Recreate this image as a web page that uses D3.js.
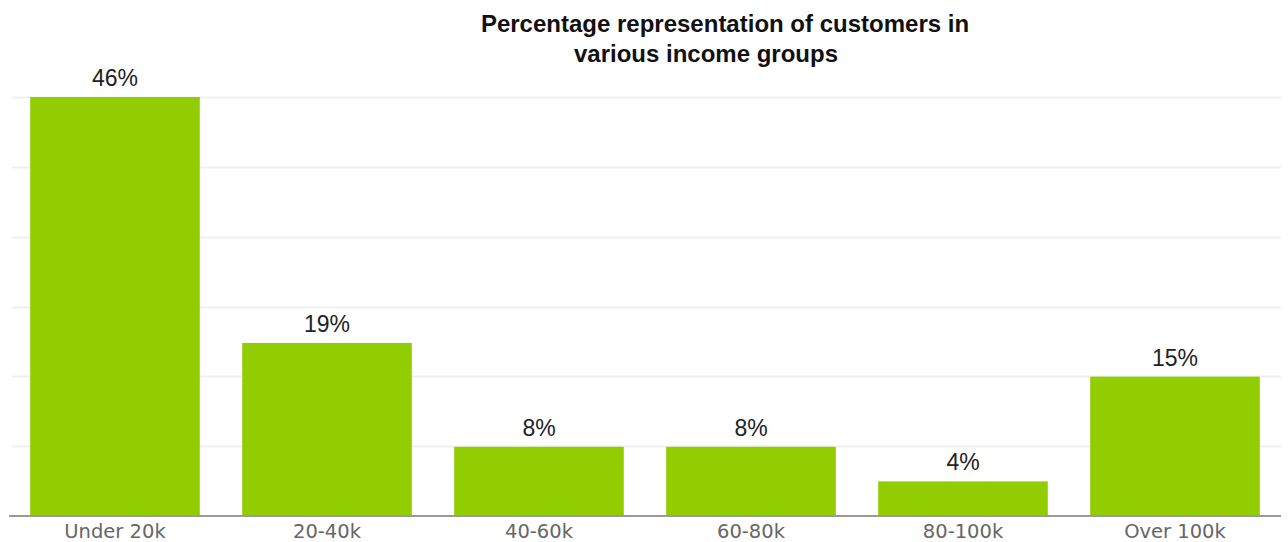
<!DOCTYPE html>
<html>
<head>
<meta charset="utf-8">
<script src="https://cdn.jsdelivr.net/npm/d3@7"></script>
<style>
  html, body { margin: 0; padding: 0; background: #fff; }
  svg { display: block; }
</style>
</head>
<body>
<div id="chart"></div>
<script>
/* Customers by income group, single-series column chart */
var categories = ['Under 20k', '20-40k', '40-60k', '60-80k', '80-100k', 'Over 100k'];
var values = [46, 19, 7.6, 7.6, 3.8, 15.3];
var valueLabels = ['46%', '19%', '8%', '8%', '4%', '15%'];
var gridValues = [7.67, 15.33, 23, 30.67, 38.33, 46];
var titleLines = ['Percentage representation of customers in', 'various income groups'];

(function () {
  'use strict';
  var W = 1288, H = 542;
  var margin = { top: 97, right: 7, bottom: 26, left: 9 };
  var innerW = W - margin.left - margin.right;
  var innerH = H - margin.top - margin.bottom;

  var svg = d3.select('#chart').append('svg')
    .attr('width', W).attr('height', H);

  var g = svg.append('g')
    .attr('transform', 'translate(' + margin.left + ',' + margin.top + ')');

  var x = d3.scaleBand().domain(categories).range([0, innerW])
    .paddingInner(0.2).paddingOuter(0.1);
  var y = d3.scaleLinear().domain([0, 46]).range([innerH, 0]);

  /* gridlines */
  g.append('g').selectAll('line').data(gridValues).enter().append('line')
    .attr('x1', 3).attr('x2', innerW)
    .attr('y1', function (d) { return Math.round(y(d)) + 0.5; })
    .attr('y2', function (d) { return Math.round(y(d)) + 0.5; })
    .attr('stroke', '#efefef').attr('stroke-width', 2);

  /* bars */
  g.append('g').selectAll('rect').data(values).enter().append('rect')
    .attr('x', function (d, i) { return x(categories[i]); })
    .attr('y', function (d) { return y(d); })
    .attr('width', x.bandwidth())
    .attr('height', function (d) { return innerH - y(d); })
    .attr('fill', '#91cd00');

  /* baseline axis */
  var xAxis = g.append('g')
    .attr('transform', 'translate(0,' + innerH + ')')
    .call(d3.axisBottom(x).tickSize(0).tickPadding(8));
  xAxis.select('.domain').attr('stroke', '#999').attr('stroke-width', 2)
    .attr('d', 'M0,0H' + innerW);
  xAxis.selectAll('text')
    .style('font-family', 'Verdana, "DejaVu Sans", sans-serif')
    .style('font-size', '19.5px')
    .style('fill', '#666');

  /* value labels */
  g.append('g').selectAll('text').data(values).enter().append('text')
    .attr('x', function (d, i) { return x(categories[i]) + x.bandwidth() / 2; })
    .attr('y', function (d) { return y(d) - 11; })
    .attr('text-anchor', 'middle')
    .style('font-family', 'Arial, "Liberation Sans", sans-serif')
    .style('font-size', '23px')
    .style('fill', '#222')
    .text(function (d, i) { return valueLabels[i]; });

  /* title, two centred lines */
  var titleX = [725, 706];
  svg.append('text')
    .attr('y', 32)
    .attr('text-anchor', 'middle')
    .style('font-family', 'Arial, "Liberation Sans", sans-serif')
    .style('font-size', '24px').style('font-weight', 'bold')
    .style('fill', '#111')
    .selectAll('tspan').data(titleLines).enter().append('tspan')
    .attr('x', function (d, i) { return titleX[i]; })
    .attr('dy', function (d, i) { return i === 0 ? 0 : 30; })
    .text(function (d) { return d; });
})();
</script>
</body>
</html>
